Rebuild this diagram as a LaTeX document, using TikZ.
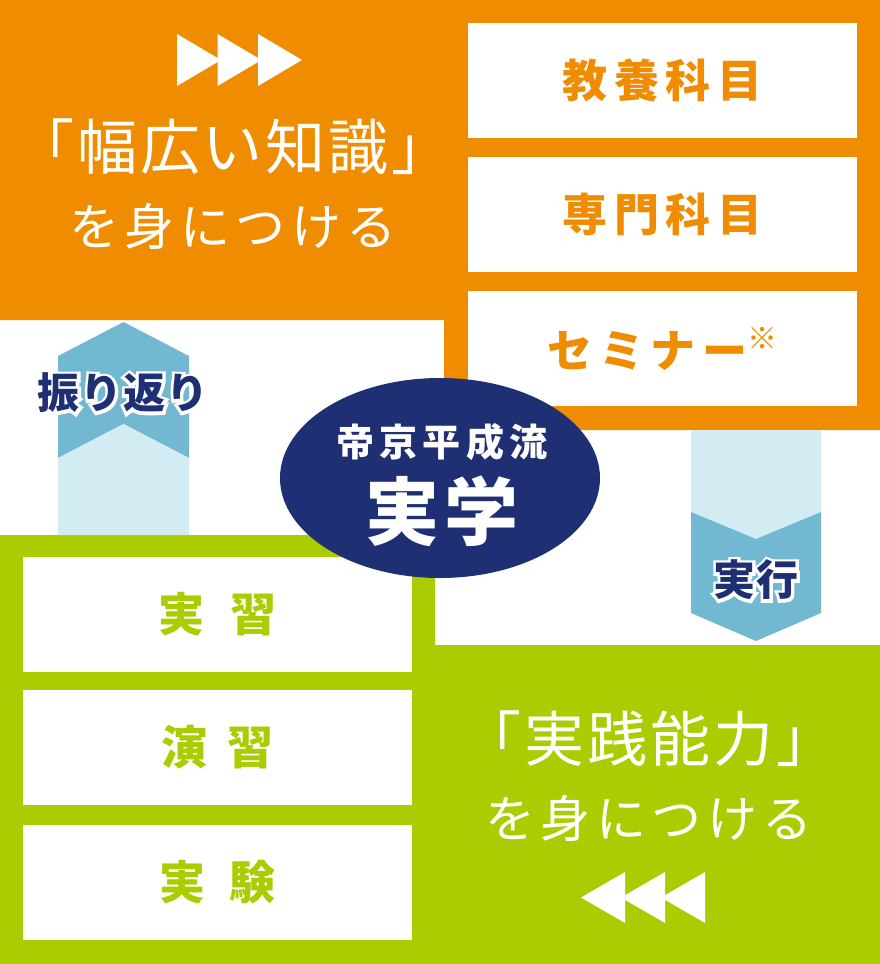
\documentclass[tikz,border=0pt]{standalone}
\usepackage{fontspec}
\usetikzlibrary{shapes.geometric}
\newfontfamily\jp{Noto Sans CJK JP}
\definecolor{kuorange}{HTML}{F08C00}
\definecolor{kugreen}{HTML}{AACC00}
\definecolor{kunavy}{HTML}{1E2F73}
\definecolor{kublue}{HTML}{72B8D0}
\definecolor{kulight}{HTML}{D3ECF3}
% white rim drawn under the label text
\newcommand\rimtext[1]{\special{pdf:literal direct 1 Tr 6 w}#1\special{pdf:literal direct 0 Tr 0.4 w}}
\tikzset{
  obox/.style={fill=white, inner sep=0, minimum width=389, minimum height=115,
    text=kuorange, font=\jp\bfseries\fontsize{45}{45}\selectfont\addfontfeature{LetterSpace=15}},
  gbox/.style={fill=white, inner sep=0, minimum width=389, minimum height=115,
    text=kugreen, font=\jp\bfseries\fontsize{46}{46}\selectfont},
  bigtxt/.style={text=white, inner sep=0, font=\jp\fontsize{60}{60}\selectfont\addfontfeature{LetterSpace=5}},
  midtxt/.style={text=white, inner sep=0, font=\jp\fontsize{50}{50}\selectfont\addfontfeature{LetterSpace=11}},
  arrtxt/.style={inner sep=0, font=\jp\bfseries\fontsize{42}{42}\selectfont\addfontfeature{LetterSpace=2}}
}
\begin{document}
\begin{tikzpicture}[x=1pt, y=-1pt]
\useasboundingbox (0,0) rectangle (880,964);
% blocks
\fill[kuorange] (0,0) -- (880,0) -- (880,430) -- (444,430) -- (444,320) -- (0,320) -- cycle;
\fill[kugreen] (0,535) -- (435,535) -- (435,645) -- (880,645) -- (880,964) -- (0,964) -- cycle;
% arrows
\fill[kublue] (123.5,322) -- (189,356) -- (189,458) -- (123.5,424) -- (58,458) -- (58,356) -- cycle;
\fill[kulight] (58,458) -- (123.5,424) -- (189,458) -- (189,535) -- (58,535) -- cycle;
\fill[kulight] (691,430) -- (821,430) -- (821,512) -- (756,539) -- (691,512) -- cycle;
\fill[kublue] (691,512) -- (756,539) -- (821,512) -- (821,613) -- (756,641) -- (691,613) -- cycle;
% triangles
\foreach \i in {0,1,2} {
  \fill[white] (177+40.5*\i,34) -- (221+40.5*\i,60) -- (177+40.5*\i,86) -- cycle;
  \fill[white] (625+40*\i,872) -- (581+40*\i,897.5) -- (625+40*\i,923) -- cycle;
}
% orange side
\node[obox] (kyoyo) at (662.5,80.5) {教養科目};
\node[obox] (senmon) at (662.5,214.5) {専門科目};
\node[obox] (seminar) at (662.5,348.5) {セミナー\raisebox{0.4em}{\fontsize{30}{30}\selectfont ※}};
\node[bigtxt] (chishiki) at (233,147) {「幅広い知識」};
\node[midtxt] (mini1) at (233,226) {を身につける};
% green side
\node[gbox] (jisshu) at (217.5,614.5) {実\hspace{26pt}習};
\node[gbox] (enshu) at (217.5,747.5) {演\hspace{20pt}習};
\node[gbox] (jikken) at (217.5,882) {実\hspace{24pt}験};
\node[bigtxt] (jissen) at (649,739) {「実践能力」};
\node[midtxt] (mini2) at (649,818) {を身につける};
% arrow labels
\node[arrtxt] (furikaeri) at (123,393) {\color{white}\rimtext{振り返り}\llap{\color{kunavy}振り返り}};
\node[arrtxt] (jikko) at (756,580) {\color{white}\rimtext{実行}\llap{\color{kunavy}実行}};
% center
\node[ellipse, fill=kunavy, inner sep=0, minimum width=320, minimum height=200] (core) at (440,478) {};
\node[text=white, font=\jp\bfseries\fontsize{38}{38}\selectfont\addfontfeature{LetterSpace=14}] (teikyo) at (442,442) {帝京平成流};
\node[text=white, font=\jp\bfseries\fontsize{74}{74}\selectfont\addfontfeature{LetterSpace=6}] (jitsugaku) at (442,511) {実学};
\end{tikzpicture}
\end{document}
